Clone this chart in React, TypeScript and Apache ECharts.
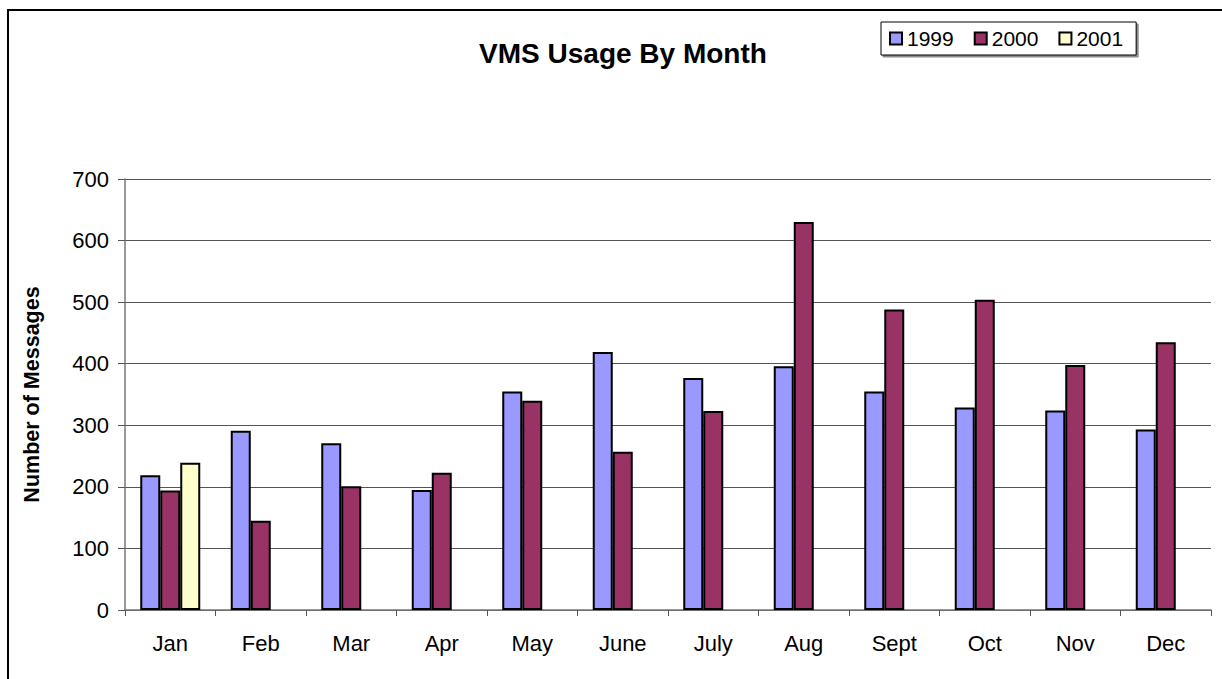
import React, { useEffect, useRef } from "react";
import * as echarts from "echarts";

const months = ["Jan", "Feb", "Mar", "Apr", "May", "June", "July", "Aug", "Sept", "Oct", "Nov", "Dec"];
const yTicks = [0, 100, 200, 300, 400, 500, 600, 700];
const values1999 = [219, 291, 271, 195, 355, 419, 377, 396, 355, 329, 324, 293];
const values2000 = [194, 145, 201, 223, 340, 257, 323, 630, 488, 504, 398, 435];
const values2001: (number | string)[] = [239, "-", "-", "-", "-", "-", "-", "-", "-", "-", "-", "-"];

const FONT = "Liberation Sans, Arial, Helvetica, sans-serif";

export default function App() {
  const ref = useRef<HTMLDivElement>(null);
  useEffect(() => {
    if (!ref.current) return;
    const chart = echarts.init(ref.current, undefined, { renderer: "svg" });
    const barStyle = (color: string) => ({ color, borderColor: "#000", borderWidth: 2 });
    chart.setOption({
      animation: false,
      backgroundColor: "#fff",
      textStyle: { fontFamily: FONT, color: "#000" },
      title: {
        text: "VMS Usage By Month",
        left: 618,
        textAlign: "center",
        top: 34,
        textStyle: { fontFamily: FONT, fontSize: 28, fontWeight: "bold", color: "#000" },
      },
      legend: {
        top: 22,
        left: 881,
        padding: [6, 13, 6, 8],
        itemGap: 20,
        itemWidth: 12,
        itemHeight: 12,
        itemTextGap: 5,
        icon: "rect",
        borderColor: "#000",
        borderWidth: 1,
        backgroundColor: "#fff",
        shadowColor: "rgba(0,0,0,0.45)",
        shadowBlur: 1,
        shadowOffsetX: 2,
        shadowOffsetY: 2,
        textStyle: { fontFamily: FONT, fontSize: 21, color: "#000" },
        data: ["1999", "2000", "2001"],
      },
      grid: { left: 125, right: 11, top: 179, bottom: 69, containLabel: false },
      xAxis: {
        type: "category",
        data: months,
        axisLine: { show: true, lineStyle: { color: "#777", width: 1.5 } },
        axisTick: { show: true, length: 6, lineStyle: { color: "#555" } },
        axisLabel: { fontFamily: FONT, fontSize: 22, color: "#000", margin: 22 },
        splitLine: { show: false },
      },
      yAxis: {
        type: "value",
        min: yTicks[0],
        max: yTicks[yTicks.length - 1],
        interval: 100,
        name: "Number of Messages",
        nameLocation: "middle",
        nameGap: 82,
        nameTextStyle: { fontFamily: FONT, fontSize: 21.5, fontWeight: "bold", color: "#000" },
        axisLine: { show: true, lineStyle: { color: "#777", width: 1.5 } },
        axisTick: { show: true, length: 7, lineStyle: { color: "#555" } },
        axisLabel: { fontFamily: FONT, fontSize: 22, color: "#000", margin: 16 },
        splitLine: { show: true, lineStyle: { color: "#555", width: 1 } },
      },
      graphic: [
        {
          type: "rect",
          shape: { x: 8, y: 10, width: 1400, height: 900 },
          style: { fill: "none", stroke: "#000", lineWidth: 2 },
          z: -1,
          silent: true,
        },
      ],
      series: [
        { name: "1999", type: "bar", data: values1999, barWidth: 20, barGap: "0%", itemStyle: barStyle("#9999FF") },
        { name: "2000", type: "bar", data: values2000, barWidth: 20, barGap: "0%", itemStyle: barStyle("#993366") },
        { name: "2001", type: "bar", data: values2001, barWidth: 20, barGap: "0%", itemStyle: barStyle("#FFFFCC") },
      ],
    });
    return () => chart.dispose();
  }, []);
  return (
    <div
      ref={ref}
      style={{ position: "fixed", left: 0, top: 0, width: 1222, height: 679, background: "#fff" }}
    />
  );
}
